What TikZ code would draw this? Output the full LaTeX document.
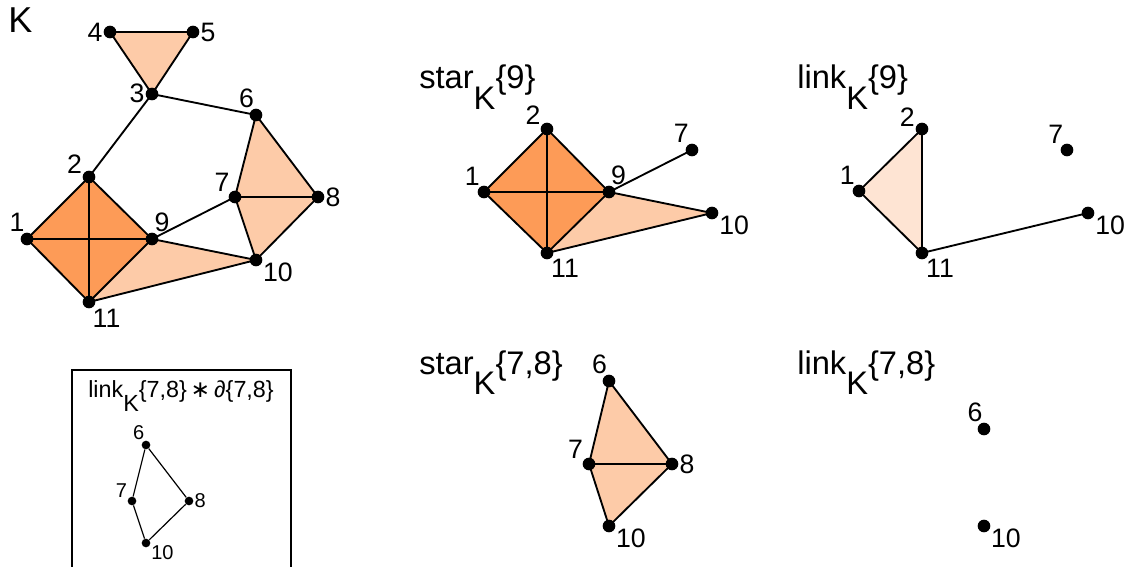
\documentclass[tikz,border=0pt]{standalone}
\usepackage{fontspec}
\setmainfont{Liberation Sans}
\newfontfamily\symfont{DejaVu Sans}
\usetikzlibrary{positioning,backgrounds}
\definecolor{orgD}{HTML}{FD9B57}
\definecolor{orgL}{HTML}{FDCBA8}
\definecolor{orgP}{HTML}{FEE4D3}
\newcommand{\lowK}{\raisebox{-0.62em}{K}}

\begin{document}
\begin{tikzpicture}[x=0.75pt, y=-0.75pt,
  every node/.style={font=\fontsize{20}{23}\selectfont},
  vtx/.style={circle, fill=black, inner sep=0pt, minimum size=9.5pt},
  svtx/.style={circle, fill=black, inner sep=0pt, minimum size=6.5pt},
  edge/.style={line width=1.4pt},
  sedge/.style={line width=0.9pt},
  ttl/.style={anchor=base west, inner sep=0pt, font=\fontsize{24.5}{28}\selectfont},
  every label/.style={inner sep=0.5pt},
  label distance=0pt
]
  \useasboundingbox (0,0) rectangle (1131,567);

  % complex K
  \node[anchor=base west, inner sep=0pt, font=\fontsize{27}{30}\selectfont] (kname) at (8,33) {K};
  \node[vtx, label=105:1] (k1) at (27,239) {};
  \node[vtx, label=160:2] (k2) at (89,177) {};
  \node[vtx, label=178:3] (k3) at (152,94) {};
  \node[vtx, label=180:4] (k4) at (110,32) {};
  \node[vtx, label=0:5] (k5) at (193,32) {};
  \node[vtx, label=100:6] (k6) at (256,115) {};
  \node[vtx, label=135:7] (k7) at (235,197) {};
  \node[vtx, label=0:8] (k8) at (318,197) {};
  \node[vtx, label=75:9] (k9) at (152,239) {};
  \node[vtx, label=-20:10] (k10) at (256,260) {};
  \node[vtx, label=-65:11] (k11) at (89,302) {};
  \begin{scope}[on background layer]
    \fill[orgD] (k1.center) -- (k2.center) -- (k9.center) -- (k11.center) -- cycle;
    \fill[orgL] (k9.center) -- (k10.center) -- (k11.center) -- cycle;
    \fill[orgL] (k6.center) -- (k8.center) -- (k10.center) -- (k7.center) -- cycle;
    \fill[orgL] (k3.center) -- (k4.center) -- (k5.center) -- cycle;
    \foreach \a/\b in {1/2,2/9,9/11,11/1,1/9,2/11,9/10,10/11,9/7,6/7,6/8,7/8,7/10,8/10,3/6,2/3,3/4,4/5,5/3}
      \draw[edge] (k\a.center) -- (k\b.center);
  \end{scope}

  % star of 9
  \node[ttl] (sttl) at (419,89) {star\lowK\{9\}};
  \node[vtx, label=120:1] (s1) at (484,192) {};
  \node[vtx, label=150:2] (s2) at (547,129) {};
  \node[vtx, label=80:9] (s9) at (609,192) {};
  \node[vtx, label=-60:11] (s11) at (547,253) {};
  \node[vtx, label=110:7] (s7) at (692,150) {};
  \node[vtx, label=-15:10] (s10) at (712,213) {};
  \begin{scope}[on background layer]
    \fill[orgD] (s1.center) -- (s2.center) -- (s9.center) -- (s11.center) -- cycle;
    \fill[orgL] (s9.center) -- (s10.center) -- (s11.center) -- cycle;
    \foreach \a/\b in {1/2,2/9,9/11,11/1,1/9,2/11,9/7,9/10,10/11}
      \draw[edge] (s\a.center) -- (s\b.center);
  \end{scope}

  % link of 9
  \node[ttl] (lttl) at (797,89) {link\lowK\{9\}};
  \node[vtx, label=120:1] (l1) at (859,191) {};
  \node[vtx, label=165:2] (l2) at (922,129) {};
  \node[vtx, label=-60:11] (l11) at (922,253) {};
  \node[vtx, label=115:7] (l7) at (1067,150) {};
  \node[vtx, label=-15:10] (l10) at (1088,213) {};
  \begin{scope}[on background layer]
    \fill[orgP] (l1.center) -- (l2.center) -- (l11.center) -- cycle;
    \foreach \a/\b in {1/2,2/11,11/1,11/10}
      \draw[edge] (l\a.center) -- (l\b.center);
  \end{scope}

  % star of {7,8}
  \node[ttl] (tttl) at (419,374) {star\lowK\{7,8\}};
  \node[vtx, label=100:6] (t6) at (609,381) {};
  \node[vtx, label=140:7] (t7) at (589,464) {};
  \node[vtx, label=0:8] (t8) at (672,464) {};
  \node[vtx, label=-20:10] (t10) at (609,526) {};
  \begin{scope}[on background layer]
    \fill[orgL] (t6.center) -- (t8.center) -- (t10.center) -- (t7.center) -- cycle;
    \foreach \a/\b in {6/7,6/8,7/8,7/10,8/10}
      \draw[edge] (t\a.center) -- (t\b.center);
  \end{scope}

  % link of {7,8}
  \node[ttl] (mttl) at (797,374) {link\lowK\{7,8\}};
  \node[vtx, label=95:6] (m6) at (984,429) {};
  \node[vtx, label=-20:10] (m10) at (984,526) {};

  % join with the boundary
  \draw[line width=1pt] (72,370) rectangle (291,585);
  \node[anchor=base, font=\fontsize{17.5}{20}\selectfont] (ittl) at (181,397) {link\lowK\{7,8\}\,{\symfont ∗}\,∂\{7,8\}};
  \begin{scope}[every label/.style={inner sep=0.5pt, font=\fontsize{15}{17}\selectfont}]
    \node[svtx, label=100:6] (i6) at (146,445) {};
    \node[svtx, label=150:7] (i7) at (132,501) {};
    \node[svtx, label=0:8] (i8) at (189,501) {};
    \node[svtx, label=-15:10] (i10) at (146,543) {};
  \end{scope}
  \foreach \a/\b in {6/7,7/10,10/8,8/6}
    \draw[sedge] (i\a) -- (i\b);
\end{tikzpicture}
\end{document}
